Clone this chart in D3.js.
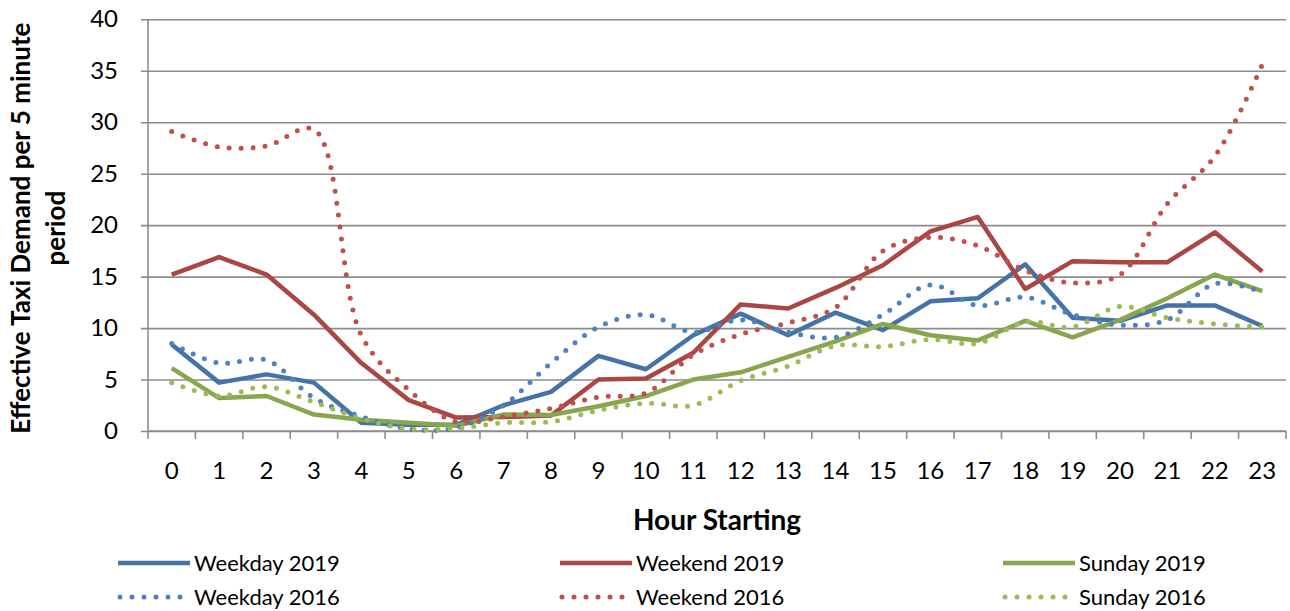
<!DOCTYPE html>
<html>
<head>
<meta charset="utf-8">
<script src="https://cdn.jsdelivr.net/npm/d3@7"></script>
<style>
  html, body { margin: 0; padding: 0; background: #fff; }
  svg { display: block; font-family: Lato, "Open Sans", sans-serif; }
</style>
</head>
<body>
<svg id="chart" width="1290" height="611"></svg>
<script>
// Hours of the day (x categories)
const hours = d3.range(24).map(String);
const yTicks = [0, 5, 10, 15, 20, 25, 30, 35, 40];

// Effective taxi demand per 5 minute period, by hour starting
const weekday2019 = [8.4, 4.7, 5.5, 4.7, 0.8, 0.6, 0.6, 2.5, 3.8, 7.3, 6.0, 9.3, 11.4, 9.3, 11.5, 9.8, 12.6, 12.9, 16.2, 11.0, 10.7, 12.2, 12.2, 10.2];
const weekend2019 = [15.2, 16.9, 15.2, 11.3, 6.6, 3.0, 1.3, 1.35, 1.5, 5.0, 5.1, 7.6, 12.3, 11.9, 13.9, 16.1, 19.4, 20.8, 13.8, 16.5, 16.4, 16.4, 19.3, 15.5];
const sunday2019  = [6.1, 3.2, 3.4, 1.6, 1.1, 0.8, 0.5, 1.6, 1.55, 2.4, 3.4, 5.0, 5.7, 7.2, 8.7, 10.4, 9.3, 8.8, 10.7, 9.1, 10.8, 12.9, 15.2, 13.6];
const weekday2016 = [8.5, 6.6, 6.9, 3.2, 1.4, 0.2, 0.3, 2.5, 6.6, 10.1, 11.3, 9.6, 10.8, 9.6, 9.1, 11.3, 14.2, 12.2, 13.0, 11.3, 10.3, 10.8, 14.3, 13.5];
const weekend2016 = [29.1, 27.6, 27.7, 29.3, 9.3, 4.0, 0.9, 1.4, 2.2, 3.3, 3.7, 7.4, 9.4, 10.5, 12.0, 17.5, 18.8, 18.0, 15.6, 14.4, 15.2, 22.1, 26.7, 35.6];
const sunday2016  = [4.7, 3.4, 4.3, 2.8, 1.2, 0.2, 0.25, 0.8, 0.9, 2.0, 2.7, 2.5, 4.9, 6.3, 8.3, 8.2, 8.9, 8.5, 10.6, 10.1, 12.1, 11.0, 10.4, 10.1];

const seriesNames = ["Weekday 2019", "Weekend 2019", "Sunday 2019", "Weekday 2016", "Weekend 2016", "Sunday 2016"];

const series = [
  { name: seriesNames[0], values: weekday2019, color: "#4572A7", dotted: false },
  { name: seriesNames[1], values: weekend2019, color: "#AA4643", dotted: false },
  { name: seriesNames[2], values: sunday2019,  color: "#89A54E", dotted: false },
  { name: seriesNames[3], values: weekday2016, color: "#4F81BD", dotted: true },
  { name: seriesNames[4], values: weekend2016, color: "#C0504D", dotted: true },
  { name: seriesNames[5], values: sunday2016,  color: "#9BBB59", dotted: true }
];

const svg = d3.select("#chart");
const plot = { left: 148, right: 1286, top: 19.3, bottom: 431 };
const gridColor = "#8C8C8C";

const x = d3.scaleBand().domain(hours).range([plot.left, plot.right]).padding(0);
const y = d3.scaleLinear().domain([0, 40]).range([plot.bottom, plot.top]);

// Horizontal gridlines with short outer ticks
const yAxis = d3.axisLeft(y).tickValues(yTicks).tickSize(-(plot.right - plot.left)).tickSizeOuter(0);
const gy = svg.append("g").attr("transform", `translate(${plot.left},0)`).call(yAxis);
gy.select(".domain").remove();
gy.selectAll(".tick line").attr("stroke", gridColor).attr("stroke-width", 1.6).attr("x1", -7);
gy.selectAll(".tick text").attr("fill", "#000").style("font-size", "24px").style("font-family", "Lato, sans-serif").attr("x", -30);

// Vertical axis line
svg.append("line")
  .attr("x1", plot.left).attr("x2", plot.left)
  .attr("y1", plot.top).attr("y2", plot.bottom)
  .attr("stroke", gridColor).attr("stroke-width", 1.6);

// Category axis: tick marks between hours
const gx = svg.append("g").attr("transform", `translate(0,${plot.bottom})`);
gx.append("line").attr("x1", plot.left).attr("x2", plot.right).attr("y1", 0).attr("y2", 0)
  .attr("stroke", gridColor).attr("stroke-width", 1.6);
const boundaries = hours.map(h => x(h)).concat([x(hours[hours.length - 1]) + x.bandwidth()]);
gx.selectAll("line.tk").data(boundaries).enter().append("line").attr("class", "tk")
  .attr("x1", d => d).attr("x2", d => d).attr("y1", 0).attr("y2", 8)
  .attr("stroke", gridColor).attr("stroke-width", 1.6);
gx.selectAll("text").data(hours).enter().append("text")
  .attr("x", d => x(d) + x.bandwidth() / 2)
  .attr("y", 48)
  .attr("text-anchor", "middle")
  .style("font-size", "24px")
  .text(d => d);

// Axis titles
svg.append("text")
  .attr("x", (plot.left + plot.right) / 2)
  .attr("y", 530)
  .attr("text-anchor", "middle")
  .style("font-size", "28px").style("font-weight", "bold")
  .text("Hour Starting");

const yTitle = svg.append("g").attr("transform", `translate(0,${(plot.top + plot.bottom) / 2 + 3}) rotate(-90)`);
yTitle.append("text").attr("x", 0).attr("y", 30).attr("text-anchor", "middle")
  .style("font-size", "26px").style("font-weight", "bold")
  .text("Effective Taxi Demand per 5 minute");
yTitle.append("text").attr("x", 0).attr("y", 65).attr("text-anchor", "middle")
  .style("font-size", "26px").style("font-weight", "bold")
  .text("period");

// Series lines: 2019 as straight segments, 2016 as smoothed dotted curves
const straight = d3.line().x((d, i) => x(hours[i]) + x.bandwidth() / 2).y(d => y(d)).curve(d3.curveLinear);
const smooth = d3.line().x((d, i) => x(hours[i]) + x.bandwidth() / 2).y(d => y(d)).curve(d3.curveCatmullRom.alpha(0.5));

svg.append("g").selectAll("path").data(series).enter().append("path")
  .attr("d", s => (s.dotted ? smooth : straight)(s.values))
  .attr("fill", "none")
  .attr("stroke", s => s.color)
  .attr("stroke-width", s => s.dotted ? 5 : 4.5)
  .attr("stroke-linecap", s => s.dotted ? "round" : "butt")
  .attr("stroke-linejoin", "round")
  .attr("stroke-dasharray", s => s.dotted ? "0 12" : null);

// Legend: three columns, two rows
const legendCols = [118, 560, 1003];
const legendRows = [563, 597];
const legend = svg.append("g");
series.forEach((s, i) => {
  const col = legendCols[i % 3], row = legendRows[Math.floor(i / 3)];
  legend.append("line")
    .attr("x1", col + (s.dotted ? 2 : 0)).attr("x2", col + 72)
    .attr("y1", row).attr("y2", row)
    .attr("stroke", s.color)
    .attr("stroke-width", s.dotted ? 5 : 4.5)
    .attr("stroke-linecap", s.dotted ? "round" : "butt")
    .attr("stroke-dasharray", s.dotted ? "0 12" : null);
  legend.append("text")
    .attr("x", col + 76).attr("y", row + 8)
    .style("font-size", "22px")
    .text(s.name);
});
</script>
</body>
</html>
